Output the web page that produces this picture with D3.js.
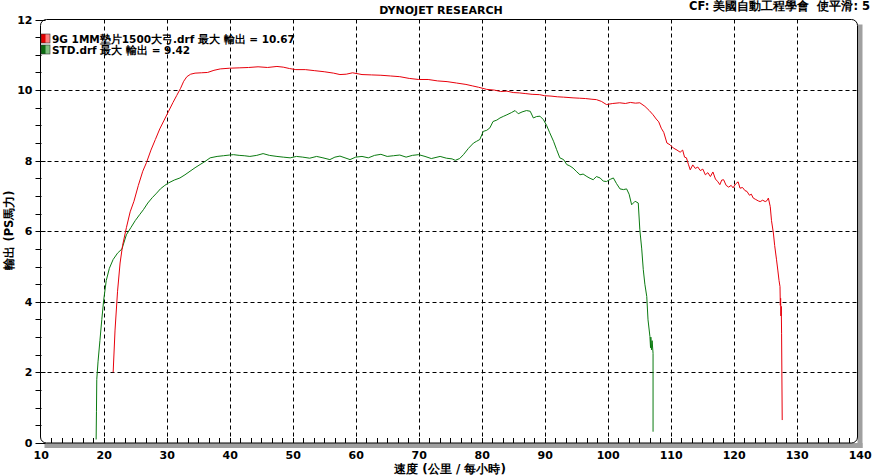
<!DOCTYPE html>
<html><head><meta charset="utf-8">
<script src="https://cdn.jsdelivr.net/npm/d3@7"></script>
<style>
html,body{margin:0;padding:0;background:#fff;}
svg{display:block;}
text{font-family:"DejaVu Sans",Verdana,sans-serif;font-weight:bold;fill:#000;}
</style></head>
<body>
<svg id="chart" width="883" height="475"></svg>
<script>
const title = "DYNOJET RESEARCH";
const subtitle = "CF: 美國自動工程學會\u00a0\u00a0使平滑: 5";
const xTitle = "速度 (公里 / 每小時)";
const yTitle = "輸出 (PS馬力)";
const seriesNames = ["9G 1MM墊片1500大弓.drf 最大 輸出 = 10.67", "STD.drf 最大 輸出 = 9.42"];
const seriesColors = ["#e8000b", "#0a7a10"];
const xTicks = [10,20,30,40,50,60,70,80,90,100,110,120,130,140];
const yTicks = [0,2,4,6,8,10,12];

const redSpeed = [21.5,21.8,22.2,22.6,23.0,23.6,24.2,24.8,25.5,26.2,26.8,27.5,28.2,28.9,29.6,30.3,31.0,31.6,32.2,32.7,33.2,33.8,34.5,35.5,36.5,37.5,38.5,40,41.5,43,44.5,46,47.5,48.5,49.5,50.5,52,53.5,55,56.5,57.5,58.5,59.5,61,62.5,64,65.5,67,68.5,70,71.5,73,74.5,76,77.5,78.5,79.5,80.8,82,83,84,85,86,87,88,89.2,90,91,92,93,94.5,95.5,96.5,97.5,98.2,99,99.8,100.8,101.9,102.8,103.6,104.4,105.1,105.9,106.6,107.2,107.7,108.1,108.5,108.9,109.4,109.9,110.4,111.0,111.5,111.9,112.2,112.5,112.8,113.1,113.5,113.9,114.3,114.7,115.1,115.5,115.9,116.3,116.7,117.1,117.5,117.8,118.1,118.4,118.8,119.2,119.6,119.9,120.3,120.7,121.0,121.4,121.8,122.1,122.5,122.8,123.1,123.5,123.9,124.2,124.6,125.0,125.3,125.5,125.8,126.0,126.3,126.5,126.8,127.0,127.2,127.35,127.4,127.45,127.5,127.55,127.6,127.7];
const redPower = [2.0,3.2,4.3,5.1,5.6,6.1,6.55,6.85,7.3,7.7,7.95,8.3,8.6,8.9,9.15,9.4,9.65,9.85,10.05,10.25,10.38,10.45,10.48,10.49,10.5,10.56,10.6,10.62,10.63,10.64,10.66,10.64,10.67,10.65,10.61,10.58,10.58,10.55,10.52,10.48,10.44,10.45,10.49,10.44,10.43,10.42,10.4,10.38,10.33,10.3,10.3,10.26,10.24,10.2,10.16,10.12,10.08,10.02,10.0,9.96,9.97,9.93,9.92,9.9,9.88,9.87,9.84,9.83,9.81,9.8,9.78,9.77,9.76,9.74,9.73,9.68,9.59,9.62,9.64,9.62,9.65,9.63,9.64,9.54,9.42,9.30,9.18,9.1,8.92,8.8,8.5,8.45,8.36,8.3,8.24,8.3,8.1,8.08,7.9,7.74,7.88,7.78,7.82,7.72,7.76,7.6,7.66,7.55,7.68,7.48,7.4,7.32,7.45,7.46,7.3,7.25,7.3,7.23,7.34,7.4,7.22,7.24,7.15,7.13,7.02,7.05,6.94,6.9,6.86,6.84,6.88,6.84,6.87,6.94,6.70,6.3,5.95,5.6,5.19,4.9,4.6,4.43,3.9,4.1,3.6,3.87,3.11,0.65];

const greenSpeed = [18.8,18.85,18.9,19.1,19.4,19.7,20.0,20.4,20.9,21.5,22.2,22.9,23.6,24.3,25.0,25.7,26.3,27.0,27.7,28.4,29.0,29.7,30.3,31.2,32.1,32.9,33.7,34.5,35.3,36.1,36.9,38.0,39.0,40.0,40.6,41.5,42.3,43.2,44.3,45.3,46.3,47.5,48.5,49.6,50.6,51.6,52.7,53.8,54.8,55.9,56.7,57.5,58.3,59.1,60.0,61.0,62.0,63.0,64.0,65.0,66.0,67.0,68.0,69.0,70.0,71.0,72.0,73.4,74.4,75.3,75.8,76.5,77.1,77.9,78.7,79.2,79.7,80.25,80.8,81.3,81.8,82.4,82.9,83.5,84.0,84.7,85.3,85.8,86.4,87.1,87.7,88.2,88.7,89.25,89.8,90.3,90.8,91.4,91.9,92.4,93.0,93.5,94.0,94.5,95.0,95.6,96.1,96.7,97.2,97.7,98.2,98.8,99.3,99.8,100.4,100.9,101.4,101.95,102.5,103.0,103.4,103.8,104.35,104.85,105.1,105.4,105.65,105.9,106.2,106.4,106.7,106.8,106.85,106.95,107.05,107.2,107.2];
const greenPower = [0.1,0.9,1.8,2.3,2.9,3.5,4.05,4.6,4.95,5.2,5.38,5.5,5.9,6.1,6.3,6.47,6.61,6.8,6.95,7.08,7.2,7.3,7.37,7.45,7.51,7.6,7.7,7.8,7.89,7.98,8.08,8.12,8.14,8.16,8.17,8.15,8.14,8.12,8.15,8.2,8.15,8.12,8.1,8.08,8.12,8.1,8.07,8.12,8.08,8.03,8.1,8.13,8.08,8.03,8.1,8.12,8.08,8.15,8.18,8.12,8.14,8.16,8.1,8.15,8.17,8.12,8.06,8.12,8.07,8.05,8.01,8.06,8.17,8.35,8.5,8.55,8.6,8.83,8.86,8.93,9.11,9.15,9.21,9.26,9.3,9.36,9.42,9.33,9.38,9.42,9.4,9.21,9.25,9.26,9.16,9.0,8.79,8.55,8.31,8.08,8.03,7.89,7.85,7.79,7.7,7.6,7.62,7.55,7.5,7.46,7.55,7.51,7.42,7.41,7.47,7.51,7.35,7.2,7.18,7.2,7.05,6.75,6.85,6.8,6.04,5.5,4.91,4.5,4.15,3.49,3.02,2.7,3.0,2.64,2.9,2.54,0.32];

const svg = d3.select("#chart");
const L = 40.5, R = 857.5, T = 19.5, B = 443;
const x = d3.scaleLinear().domain([10,140]).range([40.7, 859.7]);
const y = d3.scaleLinear().domain([0,12]).range([B, T]);

// shadow (right and bottom)
svg.append("rect").attr("x", R).attr("y", T + 5).attr("width", 5).attr("height", B - T).attr("fill", "#a0a0a0");
svg.append("rect").attr("x", L + 4).attr("y", B).attr("width", R - L + 1).attr("height", 5).attr("fill", "#a0a0a0");

// frame (rounded)
svg.append("rect").attr("x", L).attr("y", T).attr("width", R - L).attr("height", B - T)
  .attr("rx", 6).attr("ry", 6).attr("fill", "#fff").attr("stroke", "#000").attr("stroke-width", 1);

// grid
const grid = svg.append("g");
grid.selectAll("line.gx").data(xTicks.filter(d => d > 10 && d < 140)).join("line")
  .attr("x1", d => Math.round(x(d)) + 0.5).attr("x2", d => Math.round(x(d)) + 0.5)
  .attr("y1", T).attr("y2", B)
  .attr("stroke", "#000").attr("stroke-dasharray", "4,3").attr("stroke-width", 1);
grid.selectAll("line.gy").data(yTicks.filter(d => d > 0 && d < 12)).join("line")
  .attr("x1", L).attr("x2", R)
  .attr("y1", d => Math.round(y(d)) + 0.5).attr("y2", d => Math.round(y(d)) + 0.5)
  .attr("stroke", "#000").attr("stroke-dasharray", "4,3").attr("stroke-width", 1);

// Y axis
const yAxis = d3.axisLeft(y).tickValues(yTicks).tickSize(0).tickPadding(8).tickFormat(d3.format("d"));
const gy = svg.append("g").attr("transform", `translate(${L},0)`).call(yAxis);
gy.select(".domain").remove();
gy.selectAll("text").style("font-size", "11px").style("font-family", '"DejaVu Sans",Verdana,sans-serif').style("font-weight", "bold");
const yMinor = d3.range(0, 12.01, 0.5);
svg.append("g").selectAll("line").data(yMinor).join("line")
  .attr("x1", L - 5)
  .attr("x2", d => (d % 2 === 0) ? L + 5 : L + 1)
  .attr("y1", d => Math.round(y(d)) + 0.5).attr("y2", d => Math.round(y(d)) + 0.5)
  .attr("stroke", "#000");

// X axis
const xAxis = d3.axisBottom(x).tickValues(xTicks).tickSize(0).tickPadding(8).tickFormat(d3.format("d"));
const gx = svg.append("g").attr("transform", `translate(0,${B})`).call(xAxis);
gx.select(".domain").remove();
gx.selectAll("text").style("font-size", "11px").style("font-family", '"DejaVu Sans",Verdana,sans-serif').style("font-weight", "bold");
const xMinor = d3.range(0, 79).map(i => 10 + i * 10 / 6).filter(d => d > 10.5 && d < 139.5);
svg.append("g").selectAll("line").data(xMinor).join("line")
  .attr("x1", d => Math.round(x(d)) + 0.5).attr("x2", d => Math.round(x(d)) + 0.5)
  .attr("y1", B - 5).attr("y2", B)
  .attr("stroke", "#000");

// titles
svg.append("text").attr("x", 441).attr("y", 14).attr("text-anchor", "middle").style("font-size", "11px").text(title);
svg.append("text").attr("x", 870).attr("y", 10).attr("text-anchor", "end").style("font-size", "11.5px").text(subtitle);
svg.append("text").attr("x", 450).attr("y", 473).attr("text-anchor", "middle").style("font-size", "12px").text(xTitle);
svg.append("text").attr("transform", "translate(13,230) rotate(-90)").attr("text-anchor", "middle").style("font-size", "11.5px").text(yTitle);

// lines
const series = [
  {xs: redSpeed, ys: redPower, color: seriesColors[0]},
  {xs: greenSpeed, ys: greenPower, color: seriesColors[1]}
];
const line = d3.line().x(d => x(d[0])).y(d => y(d[1]));
series.slice().reverse().forEach(s => {
  svg.append("path").datum(s.xs.map((v, i) => [v, s.ys[i]]))
    .attr("d", line).attr("fill", "none").attr("stroke", s.color).attr("stroke-width", 1);
});

// legend
const defs = svg.append("defs");
const gradColors = [["#e00000", "#ff8080"], ["#0a6a10", "#80c080"]];
gradColors.forEach((c, i) => {
  const g = defs.append("linearGradient").attr("id", "lg" + i).attr("x1", "0").attr("x2", "1").attr("y1", "0").attr("y2", "0");
  g.append("stop").attr("offset", "0").attr("stop-color", c[0]);
  g.append("stop").attr("offset", "0.45").attr("stop-color", c[0]);
  g.append("stop").attr("offset", "0.55").attr("stop-color", c[1]);
  g.append("stop").attr("offset", "1").attr("stop-color", c[1]);
});
const leg = svg.append("g");
seriesNames.forEach((name, i) => {
  const yy = 34 + i * 11;
  leg.append("rect").attr("x", 41).attr("y", yy).attr("width", 9).attr("height", 9)
    .attr("fill", `url(#lg${i})`).attr("stroke", "#333").attr("stroke-width", 0.6);
  leg.append("text").attr("x", 52).attr("y", yy + 8.5).style("font-size", "10.5px").text(name);
});
</script>
</body></html>
